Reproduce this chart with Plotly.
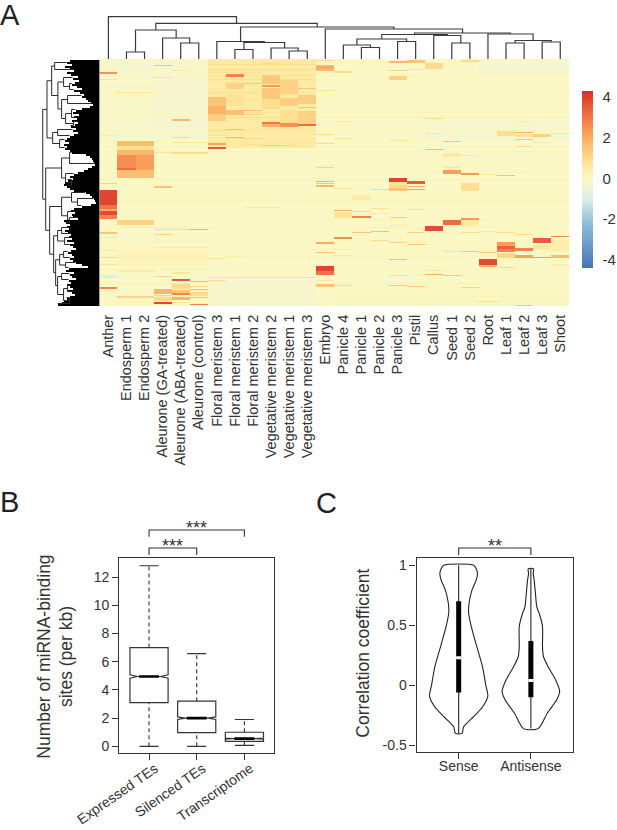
import numpy as np
import plotly.graph_objects as go

W, H = 617, 830
FONT = "Liberation Sans"
INK = "#333333"

# ---- panel A data
tissues = ["Anther", "Endosperm 1", "Endosperm 2", "Aleurone (GA-treated)", "Aleurone (ABA-treated)",
           "Aleurone (control)", "Floral meristem 3", "Floral meristem 1", "Floral meristem 2",
           "Vegetative meristem 2", "Vegetative meristem 1", "Vegetative meristem 3", "Embryo",
           "Panicle 4", "Panicle 1", "Panicle 2", "Panicle 3", "Pistil", "Callus", "Seed 1", "Seed 2",
           "Root", "Leaf 1", "Leaf 2", "Leaf 3", "Shoot"]
n_rows = 247

# bands: first col, last col, first row, last row, value
base_bands = [
    (0, 5, 0, 80, -0.12), (3, 5, 18, 72, -0.2), (1, 2, 0, 12, -0.2), (6, 11, 0, 88, 0.55),
    (21, 25, 0, 14, -0.2), (18, 25, 60, 85, -0.15), (6, 11, 222, 246, -0.2),
    (1, 5, 192, 206, 0.2), (13, 25, 222, 246, 0.05),
]
anther_bands = [
    (0, 0, 13, 14, 2.5), (0, 0, 20, 20, 0.8), (0, 0, 76, 76, 0.6), (0, 0, 124, 124, 1.2),
    (0, 0, 131, 146, 3.9), (0, 0, 146, 149, 3.0), (0, 0, 150, 151, 2.0), (0, 0, 152, 155, 3.8),
    (0, 0, 156, 159, 2.8), (0, 0, 173, 174, 1.5), (0, 0, 178, 178, 0.7), (0, 0, 191, 191, 0.5),
    (0, 0, 198, 198, 1.0), (0, 0, 205, 205, 0.8), (0, 0, 216, 218, -1.0), (0, 0, 228, 229, 2.7),
]
endosperm_bands = [
    (1, 2, 33, 33, 0.8), (1, 2, 82, 86, 1.7), (1, 2, 87, 90, 0.8), (1, 2, 91, 95, 1.8),
    (1, 2, 96, 110, 2.3), (1, 1, 96, 108, 2.6), (1, 1, 109, 110, 3.2), (1, 2, 111, 118, 1.6),
    (1, 2, 161, 165, 1.2), (1, 2, 211, 212, 0.5), (1, 2, 237, 238, 1.2),
]
aleurone_bands = [
    (3, 3, 6, 6, 1.5), (3, 3, 18, 18, 0.8), (4, 4, 11, 11, 0.7), (4, 4, 60, 61, 1.8), (4, 4, 78, 78, 1.0),
    (4, 5, 83, 83, 0.7), (3, 3, 93, 93, 0.8), (4, 5, 93, 94, 1.0), (3, 3, 127, 128, 1.5), (3, 4, 170, 170, 1.0),
    (5, 5, 170, 170, 2.0), (3, 3, 175, 175, 1.2), (3, 5, 188, 188, 0.5), (3, 3, 217, 217, 1.0),
    (3, 3, 230, 234, 1.8), (3, 3, 236, 236, 1.2), (3, 3, 238, 241, 1.0), (3, 3, 243, 244, 3.9),
    (4, 4, 213, 214, 0.7), (4, 4, 220, 221, 3.6), (4, 4, 225, 229, 1.0), (4, 4, 231, 233, 1.5),
    (4, 4, 234, 235, 2.7), (4, 4, 238, 240, 1.8), (4, 4, 243, 243, 0.8), (5, 5, 222, 222, 1.8),
    (5, 5, 227, 227, 1.0), (5, 5, 230, 230, 1.8), (5, 5, 233, 236, 1.0), (5, 5, 238, 238, 1.5),
    (5, 5, 245, 245, 2.8),
]
meristem_bands = [
    (6, 11, 5, 5, 0.9), (6, 11, 10, 10, 0.9), (6, 8, 13, 13, 0.9), (6, 11, 20, 20, 0.9), (6, 8, 33, 33, 0.9),
    (6, 6, 38, 46, 1.5), (6, 6, 47, 54, 1.9), (6, 6, 55, 61, 1.3), (6, 6, 71, 71, 1.0), (6, 6, 76, 76, 0.8),
    (6, 6, 84, 85, 2.2), (6, 6, 88, 89, 3.5),
    (7, 7, 15, 17, 2.8), (7, 7, 24, 29, 1.2), (7, 7, 36, 46, 0.8), (7, 7, 51, 55, 1.6), (7, 7, 70, 70, 1.6),
    (7, 7, 78, 78, 2.0),
    (8, 8, 24, 24, 1.5), (8, 8, 39, 39, 0.8), (8, 8, 51, 51, 1.7), (8, 8, 55, 55, 1.2), (8, 8, 79, 79, 1.0),
    (8, 8, 85, 85, 0.9),
    (9, 9, 4, 4, 1.0), (9, 9, 16, 24, 1.4), (9, 9, 26, 27, 2.4), (9, 9, 29, 39, 1.4), (9, 9, 40, 49, 0.9),
    (9, 9, 63, 64, 3.0), (9, 9, 65, 67, 2.0), (9, 9, 86, 86, 1.5),
    (10, 10, 21, 34, 1.2), (10, 10, 39, 46, 1.3), (10, 10, 51, 63, 0.9), (10, 10, 64, 67, 2.5), (10, 10, 86, 86, 1.0),
    (11, 11, 29, 29, 1.5), (11, 11, 36, 44, 1.3), (11, 11, 48, 48, 1.6), (11, 11, 52, 64, 1.2), (11, 11, 65, 66, 3.2),
    (6, 6, 199, 199, 0.7), (7, 7, 197, 197, 0.5), (6, 6, 221, 221, 1.0), (6, 11, 218, 218, 0.7), (8, 9, 148, 148, 0.6),
]
embryo_bands = [
    (12, 12, 1, 1, 1.0), (12, 12, 6, 11, 1.8), (12, 12, 8, 8, 2.3), (12, 12, 31, 31, 0.8), (12, 12, 75, 75, 1.0),
    (12, 12, 84, 84, 1.0), (12, 12, 108, 108, 1.2), (12, 12, 122, 122, 2.0), (12, 12, 124, 124, 1.5),
    (12, 12, 126, 127, 1.8), (12, 12, 183, 184, 2.0), (12, 12, 193, 193, 1.5), (12, 12, 207, 211, 3.9),
    (12, 12, 212, 215, 3.1), (12, 12, 221, 221, 0.6), (12, 12, 225, 227, 1.5),
]
panicle_bands = [
    (13, 13, 12, 13, 1.0), (13, 13, 62, 62, 0.6), (13, 13, 79, 79, 0.8), (13, 13, 129, 129, 0.9),
    (13, 13, 151, 151, 2.0), (13, 13, 153, 158, 0.8), (13, 13, 178, 179, 2.6), (13, 13, 196, 196, 0.6),
    (13, 13, 226, 226, 1.0),
    (14, 14, 136, 140, 0.5), (14, 14, 152, 152, 1.0), (14, 14, 157, 158, 2.8), (14, 14, 173, 173, 1.5),
    (15, 15, 130, 130, 1.0), (15, 15, 149, 149, 0.8), (15, 15, 154, 154, 0.6), (15, 15, 172, 172, 1.6),
    (15, 15, 181, 181, 1.0),
    (16, 16, 2, 3, 1.8), (16, 16, 11, 11, 1.2), (16, 16, 17, 20, 1.2), (16, 16, 81, 81, 0.8), (16, 16, 119, 122, 3.9),
    (16, 16, 123, 125, 0.8), (16, 16, 126, 128, 1.0), (16, 16, 129, 131, 1.5), (16, 16, 158, 158, 1.3),
    (16, 16, 166, 166, 0.6), (16, 16, 183, 183, 1.2), (16, 16, 200, 200, 1.6), (16, 16, 216, 216, 0.9),
    (16, 16, 226, 226, 1.4),
    (17, 17, 1, 3, 1.5), (17, 17, 10, 10, 0.8), (17, 17, 122, 124, 3.5), (17, 17, 127, 127, 2.0), (17, 17, 130, 130, 2.3),
    (17, 17, 150, 150, 0.8), (17, 17, 173, 173, 1.3), (17, 17, 185, 185, 1.5), (17, 17, 227, 227, 1.4),
]
other_bands = [
    (18, 18, 4, 9, 1.0), (18, 18, 59, 59, 1.0), (18, 18, 74, 74, 0.6), (18, 18, 90, 90, 1.8), (18, 18, 167, 171, 3.8),
    (18, 18, 211, 211, 0.6), (18, 18, 215, 215, 2.0),
    (19, 19, 82, 82, 1.5), (19, 19, 94, 97, 0.6), (19, 19, 108, 108, 0.8), (19, 19, 111, 114, 2.3),
    (19, 19, 161, 165, 3.2), (19, 19, 192, 192, 0.8), (19, 19, 216, 216, 1.5),
    (20, 20, 1, 2, 1.0), (20, 20, 96, 96, 0.6), (20, 20, 114, 115, 2.4), (20, 20, 124, 131, 0.9),
    (20, 20, 159, 160, 2.4), (20, 20, 161, 166, 0.6), (20, 20, 173, 173, 1.0), (20, 20, 192, 192, 1.5), (20, 20, 228, 228, 1.2),
    (21, 21, 115, 115, 0.7), (21, 21, 172, 172, 0.6), (21, 21, 193, 193, 1.5), (21, 21, 200, 205, 3.8),
    (21, 21, 206, 207, 1.8), (21, 21, 242, 242, 1.0),
    (22, 22, 72, 76, 0.9), (22, 22, 116, 116, 1.6), (22, 22, 173, 173, 1.0), (22, 22, 183, 187, 2.3), (22, 22, 187, 189, 3.4),
    (22, 22, 190, 192, 2.8), (22, 22, 194, 198, 1.0), (22, 22, 208, 208, 1.0),
    (23, 23, 62, 62, 0.5), (23, 23, 73, 73, 2.0), (23, 23, 75, 77, 0.8), (23, 23, 80, 80, 1.4), (23, 23, 87, 87, 1.0),
    (23, 23, 175, 175, 1.0), (23, 23, 189, 191, 2.8), (23, 23, 196, 198, 2.2), (23, 23, 246, 246, 1.5),
    (24, 24, 75, 77, 1.2), (24, 24, 83, 83, 0.5), (24, 24, 179, 183, 3.5), (24, 24, 186, 189, 0.7), (24, 24, 198, 198, 2.3),
    (25, 25, 74, 74, 0.8), (25, 25, 177, 177, 2.6), (25, 25, 181, 192, 0.4), (25, 25, 196, 198, 1.7), (25, 25, 205, 205, 0.6),
]
# faint stripes that run across the whole heatmap
stripe_rows = [3, 9, 16, 22, 28, 35, 41, 47, 53, 58, 66, 71, 77, 83, 92, 99, 106, 113, 120, 127, 134, 141, 147,
               154, 160, 168, 175, 182, 190, 197, 203, 210, 219, 224, 231, 237, 243]
stripe_tint = [0.2, -0.1, 0.25, 0.15, -0.15, 0.2, 0.25, -0.1, 0.2, 0.3, -0.2, 0.2, -0.2, 0.15, 0.2, -0.1, 0.25,
               0.15, 0.2, -0.1, 0.25, 0.2, -0.1, 0.2, 0.15, 0.25, -0.1, 0.2, 0.25, 0.15, -0.1, 0.2, -0.15, 0.2,
               0.15, 0.25, 0.2]

# column tree: left, right, height. ints are columns, strings are earlier merges
col_merges = {
    "endo": (1, 2, 7), "ale2": (4, 5, 16), "ale": (3, "ale2", 21), "endo_ale": ("endo", "ale", 29),
    "fm": (7, 8, 9.5), "vm13": (10, 11, 8), "vm": (9, "vm13", 11), "fm_vm": ("fm", "vm", 16.5),
    "mer": (6, "fm_vm", 17.5), "p12": (14, 15, 11.5), "p412": (13, "p12", 14), "p3pi": (16, 17, 17.5),
    "pan": ("p412", "p3pi", 20), "seed": (19, 20, 16), "cs": (18, "seed", 23.5), "pan_cs": ("pan", "cs", 24.5),
    "l12": (22, 23, 16), "l3s": (24, 25, 17), "leaf": ("l12", "l3s", 18.5), "rl": (21, "leaf", 25),
    "grp": ("pan_cs", "rl", 26), "emb": (12, "grp", 30), "tail": ("mer", "emb", 32),
    "ea": ("endo_ale", "tail", 35.7), "all": (0, "ea", 42.3),
}

# row tree: (height, child, child), numbers on their own are rows
row_tree = (57,
            (52.7,
             (48,
              (45, 3, 10),
              (41.7,
               (36, 18, (30, 24, 30)),
               (38, (32, 36, 44), (34, (28, 50, 58), (26, 62, 66))))),
             (47, (42, 70, 76), (40, 80, 88))),
            (54,
             (38, (30, 93, 104), (34, 114, (28, 120, 126))),
             (50,
              (38, (28, 133, (22, 139, 146)), (32, 152, (30, 158, 163))),
              (46,
               (42, (38, 168, 174), (35, 178, 185)),
               (44,
                (40, (36, 192, 198), (34, 203, 208)),
                (42, (38, 214, 220), (36, (32, 226, 232), (30, 238, 244))))))))

# solid part of the row tree, height of each block of 2 rows
fan_depth = [30, 33, 28, 35, 30, 26, 33, 29,
             22, 27, 21, 25, 28, 23, 18, 26,
             20, 16, 18, 14, 12, 9, 7, 10,
             18, 24, 27, 21, 26, 23, 28, 22,
             25, 29, 24, 27, 22, 26, 30, 33,
             35, 31, 36, 33, 35, 30, 28, 14,
             10, 8, 7, 6, 5, 8, 12, 16,
             22, 26, 30, 27, 32, 35, 36, 33,
             30, 26, 14, 10, 8, 6, 5, 4,
             9, 18, 26, 29, 25, 28, 27, 22,
             36, 34, 30, 33, 31, 35, 32, 29,
             31, 28, 33, 26, 30, 27, 24, 29,
             32, 28, 26, 30, 27, 24, 18, 12,
             31, 34, 26, 30, 28, 24, 31, 29,
             33, 30, 27, 32, 28, 25, 30, 33,
             36, 38, 42]
fan_rows = [1 + 2 * i for i in range(len(fan_depth))]

# ---- panel B data
box_labels = ["Expressed TEs", "Silenced TEs", "Transcriptome"]
box_pos = [1, 2, 3]
box_q1 = [3.1, 0.97, 0.36]
box_median = [4.95, 2.0, 0.55]
box_q3 = [7.0, 3.2, 1.0]
box_low = [0.0, 0.0, 0.07]
box_high = [12.8, 6.57, 1.9]
box_notch = [0.12, 0.09, 0.03]

# ---- panel C data
violin_labels = ["Sense", "Antisense"]
violin_pos = [1, 2]
sense_y = [1.0, 0.97, 0.93, 0.875, 0.79, 0.71, 0.65, 0.6, 0.49, 0.32, 0.155, 0.0, -0.09, -0.18, -0.26, -0.345, -0.4]
sense_half = [0.206, 0.243, 0.261, 0.243, 0.183, 0.151, 0.138, 0.138, 0.174, 0.252, 0.33, 0.376, 0.404, 0.33,
              0.206, 0.069, 0.046]
anti_y = [0.97, 0.93, 0.875, 0.76, 0.65, 0.6, 0.49, 0.32, 0.24, 0.155, 0.045, -0.05, -0.12, -0.23, -0.36]
anti_half = [0.037, 0.032, 0.046, 0.064, 0.083, 0.115, 0.161, 0.161, 0.174, 0.239, 0.344, 0.399, 0.358, 0.229, 0.101]
violin_q1 = [-0.06, -0.1]
violin_median = [0.23, 0.04]
violin_q3 = [0.7, 0.37]
violin_low = [-0.4, -0.36]
violin_high = [1.0, 0.97]


def xdom(a, b):
    return [a / W, b / W]


def ydom(top, bottom):
    return [1 - bottom / H, 1 - top / H]


z = np.full((n_rows, len(tissues)), 0.0)
for bands in [base_bands]:
    for c0, c1, r0, r1, val in bands:
        z[r0:r1 + 1, c0:c1 + 1] = val
for row, tint in zip(stripe_rows, stripe_tint):
    z[row] += tint
for bands in [anther_bands, endosperm_bands, aleurone_bands, meristem_bands, embryo_bands, panicle_bands, other_bands]:
    for c0, c1, r0, r1, val in bands:
        z[r0:r1 + 1, c0:c1 + 1] = val

zmin, zmax = -4.4, 4.3
stops = [(-4.4, "#4575B4"), (-2.2, "#8FBDDA"), (-1, "#DCEEEA"), (0, "#FBF8C6"), (0.7, "#FEE79A"), (2, "#FDAE61"),
         (3.2, "#EF6B42"), (4.3, "#D73027")]
colorscale = [[(v - zmin) / (zmax - zmin), c] for v, c in stops]

fig = go.Figure()
fig.add_trace(go.Heatmap(
    z=z, x=list(range(26)), y=list(range(n_rows)), zmin=zmin, zmax=zmax, colorscale=colorscale, xaxis="x", yaxis="y",
    colorbar=dict(x=586 / W, xanchor="left", y=1 - 179.5 / H, yanchor="middle", len=177 / H, lenmode="fraction",
                  thickness=11, thicknessmode="pixels", xpad=0, ypad=0, outlinewidth=0,
                  tickvals=[-4, -2, 0, 2, 4], ticktext=["-4", "-2", "0", "2", "4"], ticks="outside", ticklen=7,
                  tickcolor="rgba(0,0,0,0)", tickfont=dict(size=15, color=INK, family=FONT))))

# column dendrogram
pos = {i: i for i in range(26)}
height = {i: 0 for i in range(26)}
cx, cy = [], []
for name, (a, b, h) in col_merges.items():
    pos[name] = (pos[a] + pos[b]) / 2
    height[name] = h
    cx += [pos[a], pos[a], pos[b], pos[b], None]
    cy += [height[a], h, h, height[b], None]
fig.add_trace(go.Scatter(x=cx, y=cy, mode="lines", line=dict(color="#3a3a3a", width=1.2), xaxis="x2", yaxis="y2",
                         hoverinfo="skip", showlegend=False))

# row dendrogram
rx, ry = [], []


def walk(node):
    if not isinstance(node, tuple):
        return node, fan_depth[min(node // 2, len(fan_depth) - 1)]
    h, a, b = node
    ya, ha = walk(a)
    yb, hb = walk(b)
    rx.extend([ha, h, h, hb, None])
    ry.extend([ya, ya, yb, yb, None])
    return (ya + yb) / 2, h


walk(row_tree)
fig.add_trace(go.Bar(x=fan_depth, y=fan_rows, width=2, orientation="h", marker=dict(color="black", line_width=0),
                     xaxis="x3", yaxis="y3", hoverinfo="skip", showlegend=False))
fig.add_trace(go.Scatter(x=rx, y=ry, mode="lines", line=dict(color="#2a2a2a", width=1), xaxis="x3", yaxis="y3",
                         hoverinfo="skip", showlegend=False))

# boxplot, whiskers are dashed so they are added on top
fig.add_trace(go.Box(x=box_pos, q1=box_q1, median=box_median, q3=box_q3, lowerfence=box_q1, upperfence=box_q3,
                     notchspan=box_notch, notched=True, notchwidth=0.2, width=0.8, whiskerwidth=0,
                     fillcolor="white", line=dict(color=INK, width=1.2), xaxis="x4", yaxis="y4",
                     boxpoints=False, showlegend=False))
for p, lo, q1, q3, hi, med in zip(box_pos, box_low, box_q1, box_q3, box_high, box_median):
    fig.add_trace(go.Scatter(x=[p, p, None, p, p], y=[lo, q1, None, q3, hi], mode="lines",
                             line=dict(color=INK, width=1.1, dash="4px,3px"), xaxis="x4", yaxis="y4",
                             hoverinfo="skip", showlegend=False))
    fig.add_trace(go.Scatter(x=[p - 0.2, p + 0.2, None, p - 0.2, p + 0.2], y=[lo, lo, None, hi, hi], mode="lines",
                             line=dict(color=INK, width=1.1), xaxis="x4", yaxis="y4",
                             hoverinfo="skip", showlegend=False))
    fig.add_trace(go.Scatter(x=[p - 0.21, p + 0.21], y=[med, med], mode="lines", line=dict(color="black", width=2.6),
                             xaxis="x4", yaxis="y4", hoverinfo="skip", showlegend=False))

# violins
for p, ys, half, lo, hi, q1, q3, med in zip(violin_pos, [sense_y, anti_y], [sense_half, anti_half], violin_low,
                                            violin_high, violin_q1, violin_q3, violin_median):
    xs = [p - w for w in half] + [p + w for w in half[::-1]] + [p - half[0]]
    yy = list(ys) + list(ys[::-1]) + [ys[0]]
    fig.add_trace(go.Scatter(x=xs, y=yy, mode="lines", line=dict(color="#222222", width=1.1, shape="spline", smoothing=0.7),
                             xaxis="x5", yaxis="y5", hoverinfo="skip", showlegend=False))
    fig.add_trace(go.Scatter(x=[p, p], y=[lo, hi], mode="lines", line=dict(color="#222222", width=1.1),
                             xaxis="x5", yaxis="y5", hoverinfo="skip", showlegend=False))
    fig.add_trace(go.Scatter(x=[p, p], y=[q1, q3], mode="lines", line=dict(color="black", width=5),
                             xaxis="x5", yaxis="y5", hoverinfo="skip", showlegend=False))
    fig.add_trace(go.Scatter(x=[p - 0.035, p + 0.035], y=[med, med], mode="lines", line=dict(color="white", width=3),
                             xaxis="x5", yaxis="y5", hoverinfo="skip", showlegend=False))

# significance brackets sit on their own axes above the panels, heights count up from the panel top
brackets = [("x6", "y6", 1, 3, 28, 21.3, "***"), ("x6", "y6", 1, 2, 10, 3, "***"), ("x7", "y7", 1, 2, 9.7, 2.7, "**")]
annotations = []
for xa, ya, a, b, top, foot, stars in brackets:
    fig.add_trace(go.Scatter(x=[a, a, b, b], y=[foot, top, top, foot], mode="lines",
                             line=dict(color=INK, width=1.1), xaxis=xa, yaxis=ya, hoverinfo="skip", showlegend=False))
    annotations.append(dict(x=(a + b) / 2, y=top, xref=xa, yref=ya, text=stars, showarrow=False, xanchor="center",
                            yanchor="middle", yshift=2, font=dict(size=18, color=INK, family=FONT)))

for letter, x, y in [("A", 10, 14.5), ("B", 10, 502), ("C", 328.5, 502.5)]:
    annotations.append(dict(x=x / W, y=1 - y / H, xref="paper", yref="paper", text=letter, showarrow=False,
                            xanchor="center", yanchor="middle", font=dict(size=29, color="#222222", family=FONT)))
annotations.append(dict(x=55 / W, y=1 - 657 / H, xref="paper", yref="paper", showarrow=False, textangle=-90,
                        xanchor="center", yanchor="middle",
                        text="Number of miRNA-binding<br>sites (per kb)", font=dict(size=17.5, color=INK, family=FONT)))
annotations.append(dict(x=365 / W, y=1 - 653 / H, xref="paper", yref="paper", showarrow=False, textangle=-90,
                        xanchor="center", yanchor="middle",
                        text="Correlation coefficient", font=dict(size=17.5, color=INK, family=FONT)))

hidden = dict(visible=False, showgrid=False, zeroline=False)
panel = dict(showline=True, mirror=True, linecolor=INK, linewidth=1.2, showgrid=False, zeroline=False, ticks="outside",
             ticklen=6, tickcolor=INK, tickwidth=1.1, tickfont=dict(size=14, color=INK, family=FONT))

fig.update_layout(
    template="none",
    width=W, height=H, margin=dict(l=0, r=0, t=0, b=0), autosize=False, paper_bgcolor="white", plot_bgcolor="white",
    showlegend=False, bargap=0, annotations=annotations,
    font=dict(family=FONT, color=INK),
    xaxis=dict(domain=xdom(100, 573), range=[-0.5, 25.5], tickmode="array", tickvals=list(range(26)), ticktext=tissues,
               tickangle=-90, ticks="outside", ticklen=2, tickcolor="rgba(0,0,0,0)", showgrid=False, zeroline=False,
               anchor="y", tickfont=dict(size=14.5, color=INK, family=FONT)),
    yaxis=dict(domain=ydom(59, 306), range=[n_rows - 0.5, -0.5], showgrid=False, zeroline=False, visible=False, anchor="x"),
    xaxis2=dict(domain=xdom(100, 573), range=[-0.5, 25.5], anchor="y2", **hidden),
    yaxis2=dict(domain=ydom(10, 59), range=[0, 49], anchor="x2", **hidden),
    xaxis3=dict(domain=xdom(40, 100), range=[60, 0], anchor="y3", **hidden),
    yaxis3=dict(domain=ydom(59, 306), range=[n_rows - 0.5, -0.5], anchor="x3", **hidden),
    xaxis4=dict(domain=xdom(120, 276), range=[0.375, 3.625], tickmode="array", tickvals=box_pos, ticktext=box_labels,
                tickangle=-35, ticklabelshift=6, ticklabelstandoff=-5, anchor="y4", **panel),
    yaxis4=dict(domain=ydom(558, 753), range=[-0.47, 13.35], tickmode="array", tickvals=[0, 2, 4, 6, 8, 10, 12],
                anchor="x4", **panel),
    xaxis5=dict(domain=xdom(419.3, 576.7), range=[0.417, 2.583], tickmode="array", tickvals=violin_pos,
                ticktext=violin_labels, ticklabelstandoff=-5, anchor="y5", **panel),
    yaxis5=dict(domain=ydom(557.7, 752.3), range=[-0.557, 1.062], tickmode="array", tickvals=[-0.5, 0, 0.5, 1],
                ticktext=["-0.5", "0", "0.5", "1"], anchor="x5", **panel),
    xaxis6=dict(domain=xdom(120, 276), range=[0.375, 3.625], anchor="y6", **hidden),
    yaxis6=dict(domain=ydom(515, 558), range=[0, 43], anchor="x6", **hidden),
    xaxis7=dict(domain=xdom(419.3, 576.7), range=[0.417, 2.583], anchor="y7", **hidden),
    yaxis7=dict(domain=ydom(530, 557.7), range=[0, 27.7], anchor="x7", **hidden),
)

fig.write_html("out.html", config={"displayModeBar": False},
               post_script="document.body.style.margin='0';document.body.style.overflow='hidden';")
